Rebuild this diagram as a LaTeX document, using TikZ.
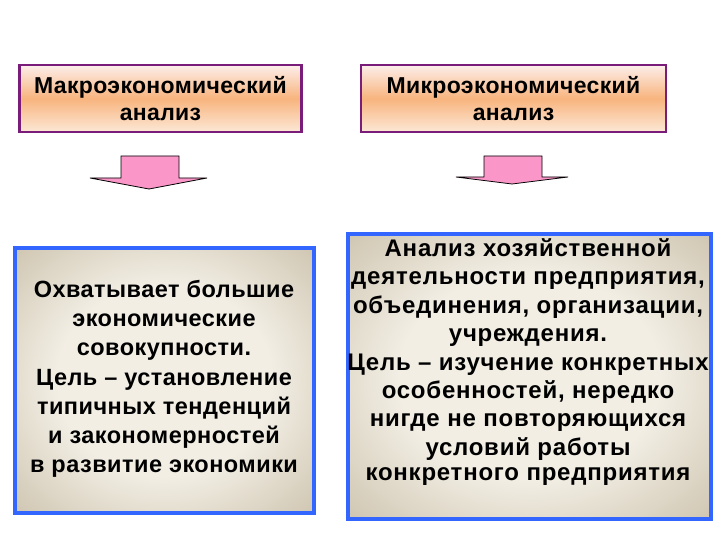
\documentclass[tikz,border=0pt]{standalone}
\usepackage{fontspec}
\setmainfont{Liberation Sans}
\definecolor{boxpurple}{RGB}{122,28,122}
\definecolor{boxblue}{RGB}{51,102,255}
\definecolor{arrowpink}{RGB}{250,150,200}
\definecolor{toptop}{RGB}{252,238,234}
\definecolor{topmid}{RGB}{248,180,126}
\definecolor{topbot}{RGB}{252,232,214}
\definecolor{beigein}{RGB}{242,238,228}
\definecolor{beigeout}{RGB}{194,182,158}
\pgfdeclareradialshading{beigeglow}{\pgfpoint{0bp}{0bp}}{color(0bp)=(beigein); color(18bp)=(beigein); color(42bp)=(beigeout); color(50bp)=(beigeout)}
\begin{document}
\begin{tikzpicture}[x=1pt,y=-1pt,
  headbox/.style={draw=boxpurple, line width=2.6pt, top color=toptop, bottom color=topbot, middle color=topmid,
    minimum width=282pt, minimum height=67pt, align=center, inner sep=0pt,
    font=\fontsize{23}{27}\selectfont\bfseries\addfontfeatures{LetterSpace=1.5}},
  bodybox/.style={draw=boxblue, line width=4pt, shading=beigeglow, inner sep=0pt},
  bodytext/.style={align=center, inner sep=0pt, font=\fontsize{23.5}{29.2}\selectfont\bfseries\addfontfeatures{LetterSpace=2}},
  downarrow/.style={draw=black, line width=0.8pt, fill=arrowpink, line join=miter}]
\useasboundingbox (0,0) rectangle (720,540);
\fill[white] (0,0) rectangle (720,540);
% top boxes
\node[headbox] (macro) at (160.5,98.5) {Макроэкономический\\анализ};
\node[headbox, minimum width=305pt] (micro) at (513.5,98.5) {Микроэкономический\\анализ};
% bottom boxes
\node[bodybox, minimum width=299pt, minimum height=265pt] (macrobody) at (164.5,380.5) {};
\node[bodybox, minimum width=363pt, minimum height=285pt] (microbody) at (529.5,376.5) {};
\node[bodytext] (macrotext) at (164,379) {Охватывает большие\\экономические\\совокупности.\\Цель – установление\\типичных тенденций\\и закономерностей\\в развитие экономики};
\node[bodytext, font=\fontsize{24}{28.4}\selectfont\bfseries\addfontfeatures{LetterSpace=3.2}] (microtext) at (528,362) {Анализ хозяйственной\\деятельности предприятия,\\объединения, организации,\\учреждения.\\Цель – изучение конкретных\\особенностей, нередко\\нигде не повторяющихся\\условий работы\\[-3.5pt]конкретного предприятия};
% arrows
\draw[downarrow] (121,156) -- (179,156) -- (179,178) -- (207,178) -- (149,189) -- (90,178) -- (121,178) -- cycle;
\draw[downarrow] (484,156) -- (542,156) -- (542,177) -- (568,177) -- (512,184) -- (456,177) -- (484,177) -- cycle;
\end{tikzpicture}
\end{document}
